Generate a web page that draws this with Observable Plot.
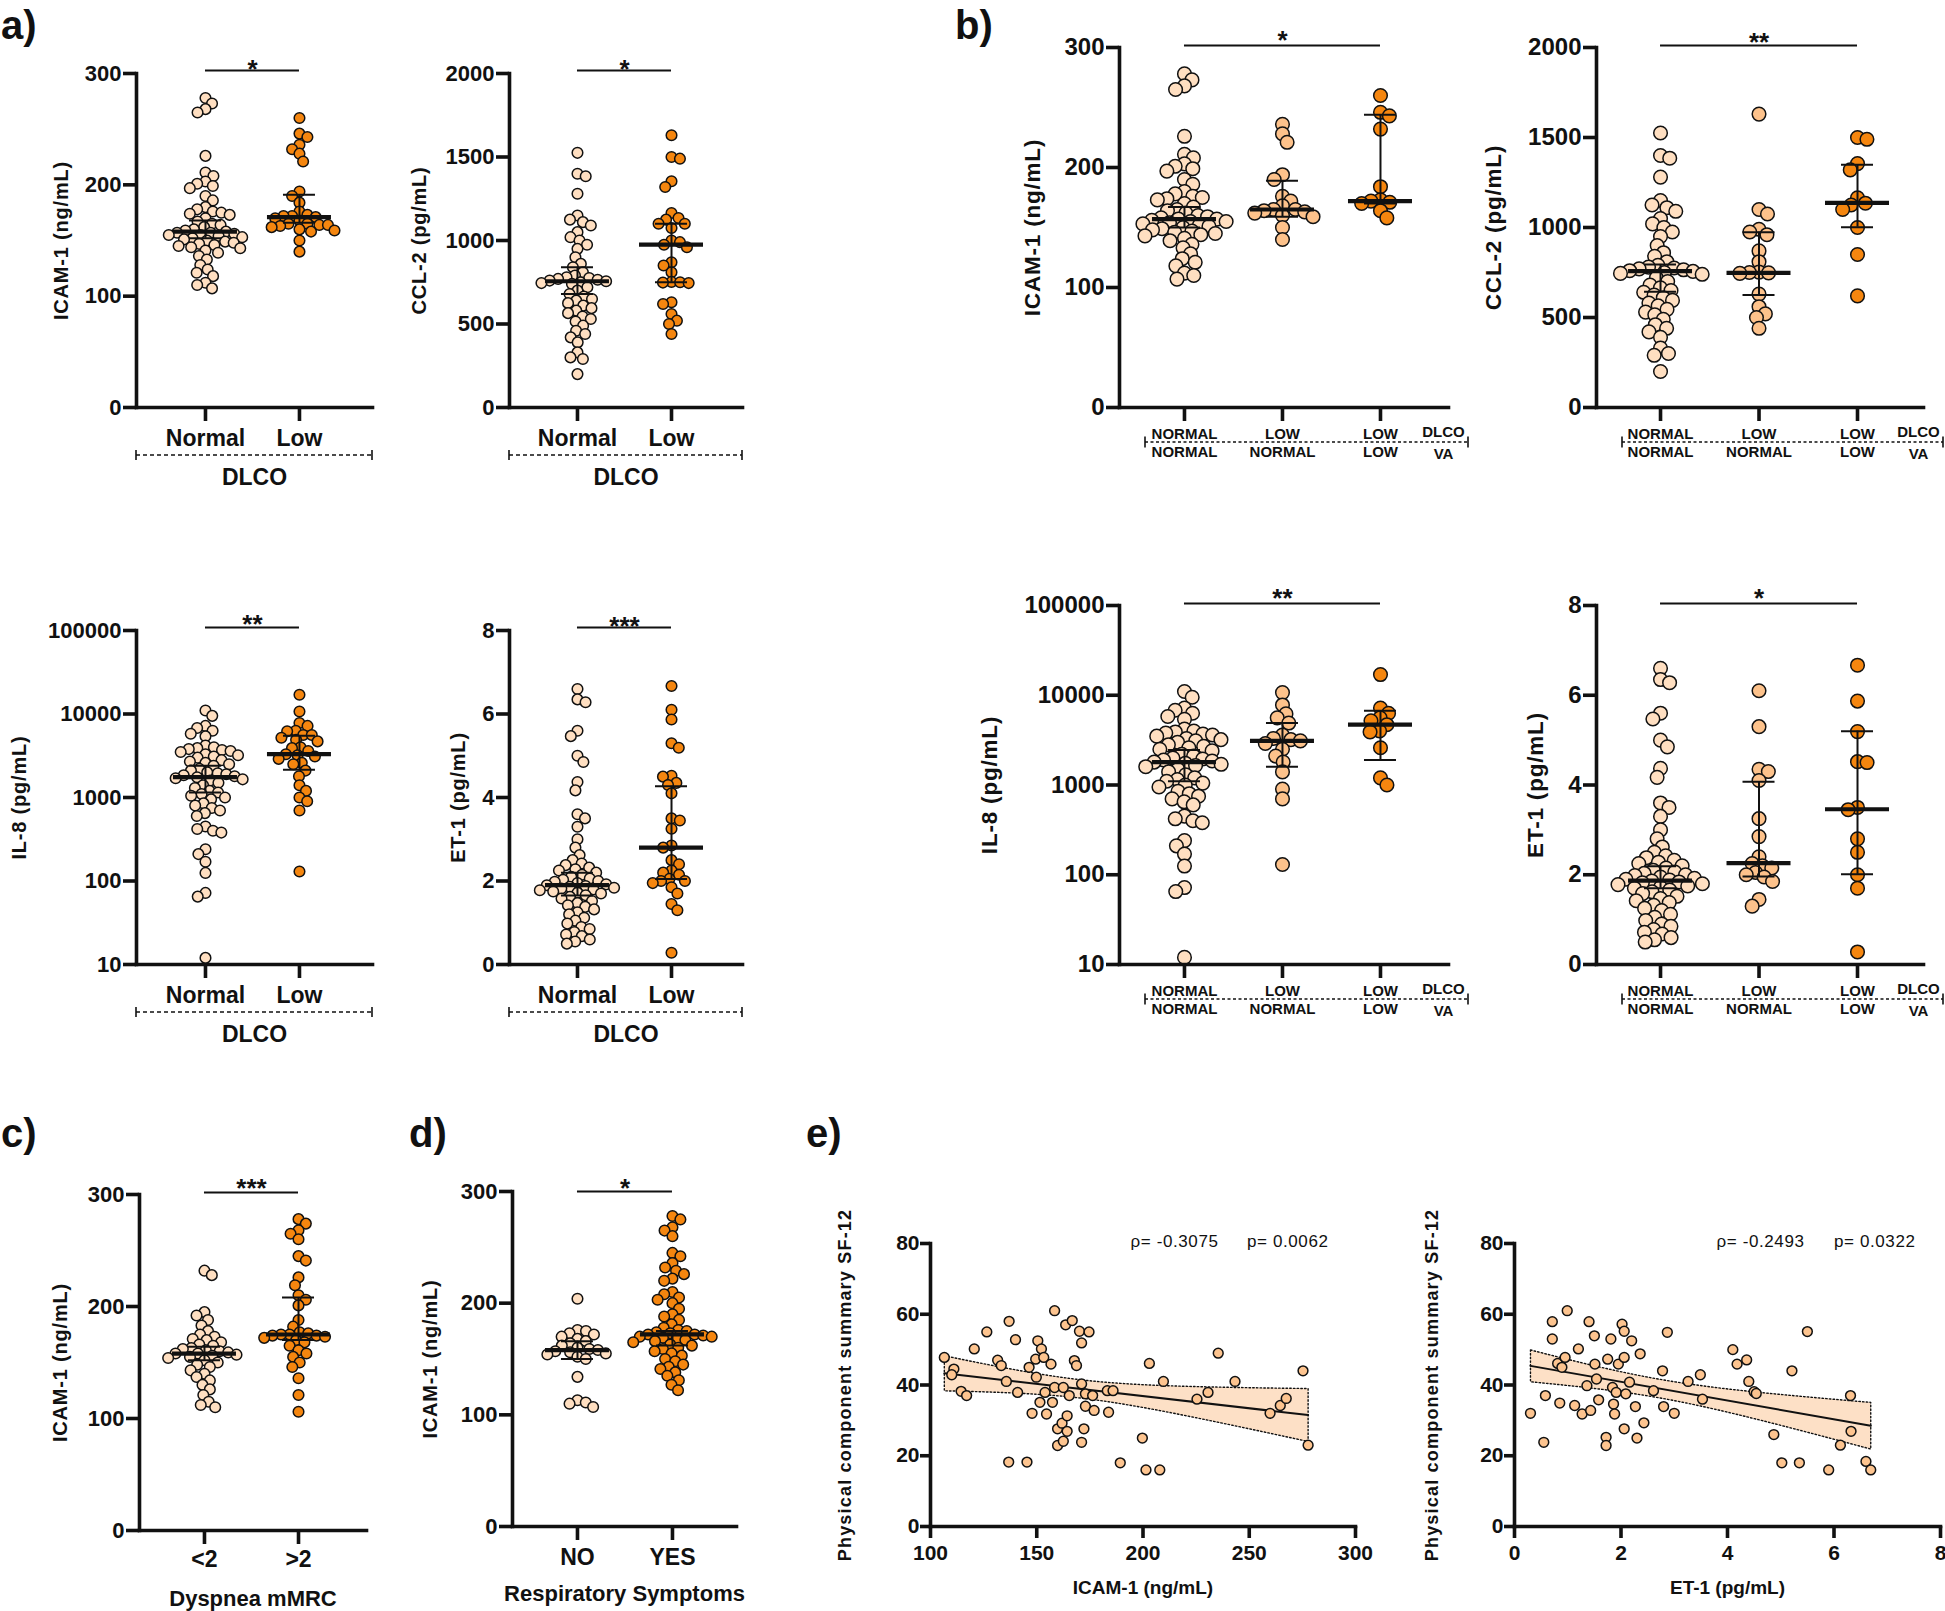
<!DOCTYPE html>
<html><head><meta charset="utf-8">
<script src="https://cdn.jsdelivr.net/npm/d3@7"></script>
<script src="https://cdn.jsdelivr.net/npm/@observablehq/plot@0.6"></script>
<style>
body{margin:0;background:#fff;}
#root{position:relative;width:1945px;height:1611px;overflow:hidden;background:#fff;font-family:"Liberation Sans",Arial,sans-serif;}
.plabel{position:absolute;font-weight:bold;font-size:40px;line-height:46px;color:#111;}
</style></head>
<body><div id="root"></div>
<script>
// ---------------- DATA ----------------
const dlcoCats = ["Normal", "Low"];
const dlcoVaTop = ["NORMAL", "LOW", "LOW"];
const dlcoVaBottom = ["NORMAL", "NORMAL", "LOW"];
const mmrcCats = ["<2", ">2"];
const symptomCats = ["NO", "YES"];

// ICAM-1 (ng/mL)
const icamNormal = [278,273,268,265,226,211,208,203,201,199,197,190,186,180,178,176,175,174,173,170,167,165,164,162,160,159,158,157,157,156,155,155,154,153,152,151,150,149,148,147,146,145,144,143,141,139,136,133,128,124,121,118,112,110,107];
const icamLowNormal = [236,228,221,194,190,176,172,168,165,165,164,163,162,160,159,150,140];
const icamLowLow = [260,246,243,232,184,173,172,171,170,164,158];
// CCL-2 (pg/mL)
const ccl2Normal = [1525,1400,1385,1280,1150,1125,1110,1090,1050,1020,1000,975,950,900,860,840,810,790,780,775,770,765,760,756,750,745,740,720,700,680,665,650,640,625,610,595,580,565,545,530,515,490,460,440,420,390,330,300,290,200];
const ccl2LowNormal = [1630,1100,1075,990,975,960,870,810,752,750,748,745,630,560,520,500,440];
const ccl2LowLow = [1500,1490,1355,1320,1165,1135,1125,1100,1000,850,620];
// IL-8 (pg/mL)
const il8Normal = [11000,9500,7200,6800,6300,5800,5400,4200,4000,3900,3800,3700,3600,3500,3300,3200,3100,3000,2800,2700,2600,2500,2400,2200,2100,2000,1950,1900,1850,1800,1750,1700,1650,1600,1500,1400,1300,1200,1150,1100,1050,1000,950,850,800,750,700,650,600,450,420,400,380,240,210,170,125,72,65,12];
const il8LowNormal = [10700,7800,6200,5600,4900,3600,3300,3200,3100,2900,2500,2100,1800,1400,900,700,130];
const il8LowLow = [17000,7200,6300,5600,5200,4700,4000,3900,2600,1200,1000];
// ET-1 (pg/mL)
const et1Normal = [6.6,6.35,6.28,5.6,5.47,5.0,4.85,4.37,4.17,3.6,3.5,3.3,3.0,2.8,2.62,2.5,2.42,2.38,2.32,2.28,2.25,2.2,2.15,2.1,2.06,2.03,2.0,1.98,1.95,1.92,1.9,1.88,1.86,1.84,1.82,1.8,1.78,1.75,1.72,1.7,1.66,1.62,1.58,1.52,1.47,1.42,1.38,1.32,1.25,1.2,1.12,1.05,0.98,0.9,0.85,0.78,0.72,0.68,0.6,0.55,0.5];
const et1LowNormal = [6.1,5.3,4.35,4.3,4.1,3.25,2.85,2.4,2.25,2.2,2.15,2.05,2.0,1.95,1.85,1.45,1.3];
const et1LowLow = [6.67,5.87,5.19,4.52,4.5,3.5,3.45,2.8,2.5,2.0,1.7,0.28];
// ICAM-1 by dyspnea mMRC and by respiratory symptoms
const icamMmrcLow = [232,228,195,192,188,183,178,175,173,171,170,168,166,165,163,162,161,160,159,158,158,157,156,155,154,152,150,148,146,143,140,137,134,130,126,121,115,112,110];
const icamMmrcHigh = [278,274,268,265,260,245,241,226,219,210,206,201,188,182,177,176,175,175,174,174,173,172,170,168,165,161,158,155,150,146,136,121,106];
const icamSympNo = [204,176,175,173,172,170,168,166,164,162,160,159,158,157,156,155,154,152,150,134,113,111,110,107];
const icamSympYes = [278,275,268,265,260,245,242,236,232,229,226,222,220,210,208,205,203,200,195,190,188,185,181,178,176,175,174,173,172,172,171,170,170,169,168,167,166,165,163,162,160,159,157,155,153,150,148,145,143,141,138,135,131,127,122];

// summary lines per group: [median, lower, upper]
const a1Summary = [[158,152,168],[171,166,191]];
const a2Summary = [[756,680,840],[975,750,1100]];
const a3Summary = [[1750,1150,2400],[3300,2150,5500]];
const a4Summary = [[1.9,1.65,2.2],[2.8,2.05,4.27]];
const b1Summary = [[157,150,167],[165,159,189],[172,170,244]];
const b2Summary = [[758,643,795],[748,625,974],[1137,1002,1349]];
const b3Summary = [[1800,1100,2450],[3100,1600,4900],[4700,1900,6700]];
const b4Summary = [[1.87,1.7,2.19],[2.26,1.96,4.07],[3.46,2.01,5.2]];
const cSummary = [[158,152,164],[175,170,208]];
const dSummary = [[158,150,166],[172,162,175]];

// significance stars
const aStars = ["*", "*", "**", "***"];
const bStars = ["*", "**", "**", "*"];
const cStars = "***";
const dStars = "*";

// correlation panels
const scatterIcam = [106.5,111,110,114.4,117,120.6,126.5,131.6,133.3,135.7,137,140,141,136.8,145.4,146.4,147.8,149.5,149.8,150.5,152.2,153.3,151.5,153.9,154.6,156.7,157.4,158.4,158.4,159.8,159.8,161.9,162.5,163.6,164.3,164.3,162.5,165.3,166.7,167.7,168.7,170.1,171.1,171.1,171.1,172.2,172.9,172.9,174.6,176.3,177,183.2,183.8,185.9,189.3,199.7,201.4,203,207.9,209.6,225.4,230.6,235.4,243.3,259.8,264.6,267.4,275.3,277.7];
const scatterPcsIcam = [47.8,44.5,42.9,38.2,37,50.2,55,47,45.5,41,58,52.8,37.9,18.2,18.2,45,32,47.3,42.2,52.5,50.2,47.8,35.1,37.9,31.8,45.9,35.1,61,39.3,27.6,22.9,29.2,39.3,57,31.3,26.9,24.1,37,58.2,46.9,45.5,55.2,51.9,40.3,23.8,27.6,37.5,34,55,37,32.8,38.4,32.3,38.4,18,25,16,46.1,16,41,36,37.9,49,41,32,34.2,36.2,44,23];
const scatterEt1 = [0.3,0.55,0.58,0.71,0.71,0.81,0.85,0.89,0.95,0.99,1.13,1.2,1.27,1.36,1.4,1.43,1.5,1.51,1.54,1.58,1.72,1.72,1.75,1.81,1.84,1.86,1.88,1.91,1.95,2.02,2.06,2.06,2.06,2.09,2.16,2.2,2.27,2.3,2.36,2.43,2.61,2.78,2.8,2.87,3.0,3.26,3.49,3.53,4.1,4.18,4.36,4.4,4.5,4.54,4.87,5.02,5.21,5.35,5.5,5.9,6.12,6.31,6.32,6.6,6.69];
const scatterPcsEt1 = [32,23.8,37,57.9,53,46.1,34.9,45,47.8,61,34.2,50.2,31.8,39.8,57.9,32.8,53.9,45.9,41.7,35.8,25.2,22.9,47.3,53,39.3,34.6,31.8,37.9,45.9,57.2,55.2,47.8,27.6,37.5,40.8,52.5,33.9,25,48.8,29.3,38.4,44,33.9,54.9,32,41,42.9,36,50,45.9,47.1,41,38.1,37.6,26,18,44,18,55.1,16,23,37,26.9,18.4,16];
const corrIcam = {rho: "-0.3075", p: "0.0062"};
const corrEt1 = {rho: "-0.2493", p: "0.0322"};

// ---------------- DRAWING ----------------
const root = document.getElementById("root");
const FONT = '"Liberation Sans", Arial, Helvetica, sans-serif';
const INK = "#111";
const LIGHT = "#ffdfc1", MID = "#fdc28b", ORANGE = "#f5860f", E_DOT = "#fdc48f", BAND = "#fde0c6";

function addPlot(svg, left, top) {
  svg.style.position = "absolute";
  svg.style.left = left + "px";
  svg.style.top = top + "px";
  root.appendChild(svg);
}

function swarmLayout(groups, ys, minD) {
  const out = [];
  groups.forEach((vals, gi) => {
    const placed = [];
    let balance = 0;
    const items = vals.map(v => ({v, py: ys(v)})).sort((a, b) => a.py - b.py);
    for (const p of items) {
      const cands = [0];
      for (const q of placed) {
        const dy = Math.abs(q.py - p.py);
        if (dy < minD) {
          const dx = Math.sqrt(minD * minD - dy * dy);
          cands.push(q.px + dx, q.px - dx);
        }
      }
      cands.sort((a, b) => (Math.abs(a) - Math.abs(b)) || (balance > 0 ? a - b : b - a));
      let px = 0;
      for (const c of cands) {
        if (placed.every(q => (q.px - c) ** 2 + (q.py - p.py) ** 2 >= minD * minD - 0.01)) { px = c; break; }
      }
      p.px = px; balance += Math.sign(px); placed.push(p);
      out.push({g: gi, off: px, value: p.v});
    }
  });
  return out;
}

function drawBracket(svg, ml, mt, W, H, b) {
  const g = d3.select(svg).append("g").attr("stroke", INK).attr("stroke-width", b.sw || 1.6).attr("fill", "none");
  const y = mt + H + b.dy, x1 = ml + b.x1, x2 = ml + W + b.x2;
  g.append("line").attr("x1", x1).attr("x2", x2).attr("y1", y).attr("y2", y).attr("stroke-dasharray", b.dash);
  for (const x of [x1, x2]) g.append("line").attr("x1", x).attr("x2", x).attr("y1", y - b.tick / 2).attr("y2", y + b.tick / 2);
}

function spaceText(svg, txt, ls) {
  d3.select(svg).selectAll("text").filter(function () { return this.textContent === txt; }).attr("letter-spacing", ls);
}

function swarmPanel(c) {
  const ml = 150, mr = 60, mt = 60, mb = 110;
  const W = c.R - c.L, H = c.B - c.T;
  const ppu = W / (c.xDomain[1] - c.xDomain[0]);
  const ys = (c.yType === "log" ? d3.scaleLog() : d3.scaleLinear()).domain(c.yDomain).range([H, 0]);
  const pts = swarmLayout(c.groups, ys, c.minD).map(d => ({x: d.g + 1 + d.off / ppu, value: d.value, fill: c.colors[d.g]}));
  const stats = c.summary.map((s, i) => ({pos: i + 1, med: s[0], lo: s[1], hi: s[2]}));
  const top = c.yDomain[1];
  const sig = [{from: 1, to: c.groups.length, stars: c.stars}];
  const half = (w) => ({x1: d => d.pos - w / ppu, x2: d => d.pos + w / ppu});
  const marks = [
    Plot.dot(pts, {x: "x", y: "value", r: c.r, fill: "fill", stroke: INK, strokeWidth: 1.5}),
    Plot.ruleX(stats, {x: "pos", y1: "lo", y2: "hi", stroke: INK, strokeWidth: 2}),
    Plot.ruleY(stats, {y: "lo", ...half(16), stroke: INK, strokeWidth: 2}),
    Plot.ruleY(stats, {y: "hi", ...half(16), stroke: INK, strokeWidth: 2}),
    Plot.ruleY(stats, {y: "med", ...half(32), stroke: INK, strokeWidth: 4.2}),
    Plot.frame({anchor: "left", stroke: INK, strokeWidth: 3.6}),
    Plot.frame({anchor: "bottom", stroke: INK, strokeWidth: 3.6}),
    Plot.axisY({ticks: c.yTicks, tickFormat: d => String(d), tickSize: 13, tickPadding: 2, stroke: INK, strokeWidth: 3.6, fontSize: c.tickFont, label: null}),
    Plot.axisX({ticks: c.groups.map((_, i) => i + 1), tickFormat: () => "", tickSize: 14, stroke: INK, strokeWidth: 3.6, label: null}),
    Plot.ruleY(sig, {y: () => top, x1: "from", x2: "to", dy: c.barDy, stroke: INK, strokeWidth: 2}),
    Plot.text(sig, {x: d => (d.from + d.to) / 2, y: () => top, text: "stars", dy: c.starDy, fontSize: 26, lineAnchor: "middle", textAnchor: "middle"}),
    Plot.text([c.yLabel], {frameAnchor: "left", rotate: -90, dx: c.yLabelDx, fontSize: c.yLabelFont || 20, textAnchor: "middle", lineAnchor: "middle"}),
    ...c.extra
  ];
  const svg = Plot.plot({
    width: W + ml + mr, height: H + mt + mb,
    marginLeft: ml, marginRight: mr, marginTop: mt, marginBottom: mb,
    x: {domain: c.xDomain}, y: {type: c.yType || "linear", domain: c.yDomain},
    color: {type: "identity"},
    style: {fontFamily: FONT, fontWeight: "bold", background: "transparent", overflow: "visible", color: INK},
    marks
  });
  if (c.bracket) drawBracket(svg, ml, mt, W, H, c.bracket);
  spaceText(svg, c.yLabel, "0.8");
  addPlot(svg, c.L - ml, c.T - mt);
}

function catText(cats, dy, fs) {
  return Plot.text(cats, {x: (d, i) => i + 1, text: d => d, frameAnchor: "bottom", lineAnchor: "middle", textAnchor: "middle", dy, fontSize: fs});
}
function frameText(t, anchor, dx, dy, fs) {
  return Plot.text([t], {frameAnchor: anchor, lineAnchor: "middle", textAnchor: "middle", dx, dy, fontSize: fs});
}
const aExtra = () => [catText(dlcoCats, 31, 23), frameText("DLCO", "bottom", 0, 70, 23)];
const bExtra = () => [
  catText(dlcoVaTop, 27, 15), catText(dlcoVaBottom, 45, 15),
  frameText("DLCO", "bottom-right", -5, 25, 15), frameText("VA", "bottom-right", -5, 47, 15)
];
const aBracket = {x1: 0, x2: 0, dy: 48, tick: 10, dash: "4,3"};
const bBracket = {x1: 26, x2: 20, dy: 35, tick: 11, dash: "3,2.5"};

const ICAM = "ICAM-1 (ng/mL)", CCL2 = "CCL-2 (pg/mL)", IL8 = "IL-8 (pg/mL)", ET1 = "ET-1 (pg/mL)";
const lin300 = {yDomain: [0, 300], yTicks: [0, 100, 200, 300]};
const lin2000 = {yDomain: [0, 2000], yTicks: [0, 500, 1000, 1500, 2000]};
const log5 = {yType: "log", yDomain: [10, 100000], yTicks: [10, 100, 1000, 10000, 100000]};
const lin8 = {yDomain: [0, 8], yTicks: [0, 2, 4, 6, 8]};

// ----- panel a -----
const aCommon = {r: 5.3, minD: 8.6, colors: [LIGHT, ORANGE], tickFont: 22, barDy: -3, bracket: aBracket};
swarmPanel({...aCommon, ...lin300, L: 136, R: 372, T: 73, B: 407, xDomain: [0.266, 2.777],
  groups: [icamNormal, [...icamLowNormal, ...icamLowLow]], summary: a1Summary, stars: aStars[0], starDy: -3.5,
  yLabel: ICAM, yLabelDx: -75, extra: aExtra()});
swarmPanel({...aCommon, ...lin2000, L: 509, R: 742, T: 73, B: 407, xDomain: [0.277, 2.755],
  groups: [ccl2Normal, [...ccl2LowNormal, ...ccl2LowLow]], summary: a2Summary, stars: aStars[1], starDy: -3.5,
  yLabel: CCL2, yLabelDx: -90, extra: aExtra()});
swarmPanel({...aCommon, ...log5, L: 136, R: 372, T: 630, B: 964, xDomain: [0.266, 2.777],
  groups: [il8Normal, [...il8LowNormal, ...il8LowLow]], summary: a3Summary, stars: aStars[2], starDy: -6,
  yLabel: IL8, yLabelDx: -117, extra: aExtra()});
swarmPanel({...aCommon, ...lin8, L: 509, R: 742, T: 630, B: 964, xDomain: [0.277, 2.755],
  groups: [et1Normal, [...et1LowNormal, ...et1LowLow]], summary: a4Summary, stars: aStars[3], starDy: -3.5,
  yLabel: ET1, yLabelDx: -51, extra: aExtra()});

// ----- panel b -----
const bCommon = {r: 6.8, minD: 9.6, colors: [LIGHT, MID, ORANGE], tickFont: 24, barDy: -2, bracket: bBracket, yLabelFont: 22.5};
swarmPanel({...bCommon, ...lin300, L: 1119, R: 1448, T: 47, B: 407, xDomain: [0.337, 3.694],
  groups: [icamNormal, icamLowNormal, icamLowLow], summary: b1Summary, stars: bStars[0], starDy: -7,
  yLabel: ICAM, yLabelDx: -87, extra: bExtra()});
swarmPanel({...bCommon, ...lin2000, L: 1596, R: 1923, T: 47, B: 407, xDomain: [0.350, 3.670],
  groups: [ccl2Normal, ccl2LowNormal, ccl2LowLow], summary: b2Summary, stars: bStars[1], starDy: -5,
  yLabel: CCL2, yLabelDx: -103, extra: bExtra()});
swarmPanel({...bCommon, ...log5, L: 1119, R: 1448, T: 605, B: 964, xDomain: [0.337, 3.694],
  groups: [il8Normal, il8LowNormal, il8LowLow], summary: b3Summary, stars: bStars[2], starDy: -7,
  yLabel: IL8, yLabelDx: -130, extra: bExtra()});
swarmPanel({...bCommon, ...lin8, L: 1596, R: 1923, T: 605, B: 964, xDomain: [0.350, 3.670],
  groups: [et1Normal, et1LowNormal, et1LowLow], summary: b4Summary, stars: bStars[3], starDy: -7,
  yLabel: ET1, yLabelDx: -61, extra: bExtra()});

// ----- panels c, d -----
swarmPanel({r: 5.3, minD: 8.6, colors: [LIGHT, ORANGE], tickFont: 22, barDy: -2, ...lin300,
  L: 139, R: 366, T: 1194, B: 1530, xDomain: [0.309, 2.723],
  groups: [icamMmrcLow, icamMmrcHigh], summary: cSummary, stars: cStars, starDy: -6,
  yLabel: ICAM, yLabelDx: -79, extra: [catText(mmrcCats, 29, 23), frameText("Dyspnea mMRC", "bottom", 0, 68, 22)]});
swarmPanel({r: 5.3, minD: 8.6, colors: [LIGHT, ORANGE], tickFont: 22, barDy: 0, ...lin300,
  L: 512, R: 736, T: 1191, B: 1526, xDomain: [0.316, 2.674],
  groups: [icamSympNo, icamSympYes], summary: dSummary, stars: dStars, starDy: -2.5,
  yLabel: ICAM, yLabelDx: -82, extra: [catText(symptomCats, 31, 23), frameText("Respiratory Symptoms", "bottom", 0, 67, 22)]});

// ----- panel e -----
function scatterPanel(c) {
  const ml = 150, mr = 40, mt = 50, mb = 100;
  const W = c.R - c.L, H = c.B - c.T;
  const pts = c.xs.map((x, i) => ({x, y: c.ys[i]}));
  const yLabel = "Physical component summary SF-12";
  const marks = [
    Plot.linearRegressionY(pts, {x: "x", y: "y", fill: BAND, fillOpacity: 1, stroke: INK, strokeWidth: 2}),
    Plot.dot(pts, {x: "x", y: "y", r: 4.9, fill: E_DOT, stroke: INK, strokeWidth: 1.5}),
    Plot.frame({anchor: "left", stroke: INK, strokeWidth: 3.6}),
    Plot.frame({anchor: "bottom", stroke: INK, strokeWidth: 3.6}),
    Plot.axisY({ticks: [0, 20, 40, 60, 80], tickFormat: d => String(d), tickSize: 10, tickPadding: 1, stroke: INK, strokeWidth: 3.6, fontSize: 21, label: null}),
    Plot.axisX({ticks: c.xTicks, tickFormat: d => String(d), tickSize: 12, tickPadding: 7, stroke: INK, strokeWidth: 3.6, fontSize: 21, label: null}),
    Plot.text([c.xLabel], {frameAnchor: "bottom", lineAnchor: "middle", textAnchor: "middle", dy: 61, fontSize: 19}),
    Plot.text([yLabel], {frameAnchor: "left", rotate: -90, textAnchor: "middle", lineAnchor: "middle", dx: c.yLabelDx, fontSize: 18}),
    Plot.text([`ρ= ${c.corr.rho}`], {frameAnchor: "top-right", textAnchor: "end", lineAnchor: "middle", dx: c.rhoDx, dy: -2, fontSize: 17, fontWeight: "normal"}),
    Plot.text([`p= ${c.corr.p}`], {frameAnchor: "top-right", textAnchor: "end", lineAnchor: "middle", dx: c.pDx, dy: -2, fontSize: 17, fontWeight: "normal"})
  ];
  const svg = Plot.plot({
    width: W + ml + mr, height: H + mt + mb,
    marginLeft: ml, marginRight: mr, marginTop: mt, marginBottom: mb,
    x: {domain: c.xDomain}, y: {domain: [0, 80]},
    style: {fontFamily: FONT, fontWeight: "bold", background: "transparent", overflow: "visible", color: INK},
    marks
  });
  d3.select(svg).selectAll('g[aria-label="linear-regression"] path[stroke="none"]')
    .attr("stroke", INK).attr("stroke-width", 1.4).attr("stroke-dasharray", "1.5,2.2");
  spaceText(svg, yLabel, "1.2");
  spaceText(svg, `ρ= ${c.corr.rho}`, "0.6");
  spaceText(svg, `p= ${c.corr.p}`, "0.6");
  addPlot(svg, c.L - ml, c.T - mt);
}
scatterPanel({L: 930, R: 1355, T: 1243, B: 1526, xDomain: [100, 300], xTicks: [100, 150, 200, 250, 300],
  xs: scatterIcam, ys: scatterPcsIcam, xLabel: "ICAM-1 (ng/mL)", yLabelDx: -85, corr: corrIcam, rhoDx: -137, pDx: -27});
scatterPanel({L: 1514, R: 1940, T: 1243, B: 1526, xDomain: [0, 8], xTicks: [0, 2, 4, 6, 8],
  xs: scatterEt1, ys: scatterPcsEt1, xLabel: "ET-1 (pg/mL)", yLabelDx: -82, corr: corrEt1, rhoDx: -136, pDx: -25});

// ----- panel letters -----
[["a)", 1, 2], ["b)", 955, 2], ["c)", 1, 1110], ["d)", 409, 1110], ["e)", 806, 1110]].forEach(([t, x, y]) => {
  const d = document.createElement("div");
  d.className = "plabel"; d.textContent = t;
  d.style.left = x + "px"; d.style.top = y + "px";
  root.appendChild(d);
});
</script></body></html>
